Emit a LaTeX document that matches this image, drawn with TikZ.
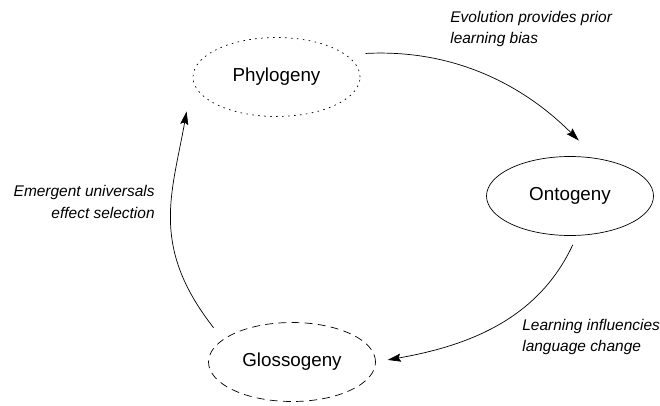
\documentclass[tikz,border=0pt]{standalone}
\usepackage{fontspec}
\setmainfont{Liberation Sans}
\usepackage{tikz}
\usetikzlibrary{shapes.geometric, arrows.meta}
\tikzset{line width=0.55pt, >={Stealth[length=7.5pt, width=4.6pt, inset=1.2pt]}, phasebox/.style={ellipse, draw, minimum width=3.34cm, minimum height=1.58cm, inner sep=0pt, font=\fontsize{10.7}{13}\selectfont}, note/.style={align=left, inner sep=0pt, font=\fontsize{8.8}{12.5}\selectfont\itshape}}

\begin{document}
\begin{tikzpicture}
	\useasboundingbox (0,0) rectangle (13.2,8.1);
	\node[phasebox, dash pattern=on 0.9pt off 2.5pt] (Phylogeny) at (5.53,6.56) {Phylogeny};
	\node[phasebox] (Ontogeny) at (11.4,4.18) {Ontogeny};
	\node[phasebox, dash pattern=on 4.5pt off 3pt] (Glossogeny) at (5.84,0.86) {Glossogeny};
	\node[note, anchor=west] (Evolution) at (9.0,7.52) {Evolution provides prior\\ learning bias};
	\node[note, align=right, anchor=east] (Emergent) at (3.1,4.06) {Emergent universals\\ effect selection};
	\node[note, anchor=west] (Learning) at (10.44,1.36) {Learning influencies\\ language change};
	\path[->]
		(Phylogeny.18) edge[out=3, in=135, shorten <=0.4cm, shorten >=0.5cm] (Ontogeny.55)
		(Ontogeny.280) edge[out=245, in=10, shorten <=0.2cm, shorten >=0.24cm] (Glossogeny.east)
		(Glossogeny.162) edge[out=128, in=260, looseness=1.15, shorten <=0.3cm, shorten >=0.7cm] (Phylogeny.west);
\end{tikzpicture}
\end{document}
